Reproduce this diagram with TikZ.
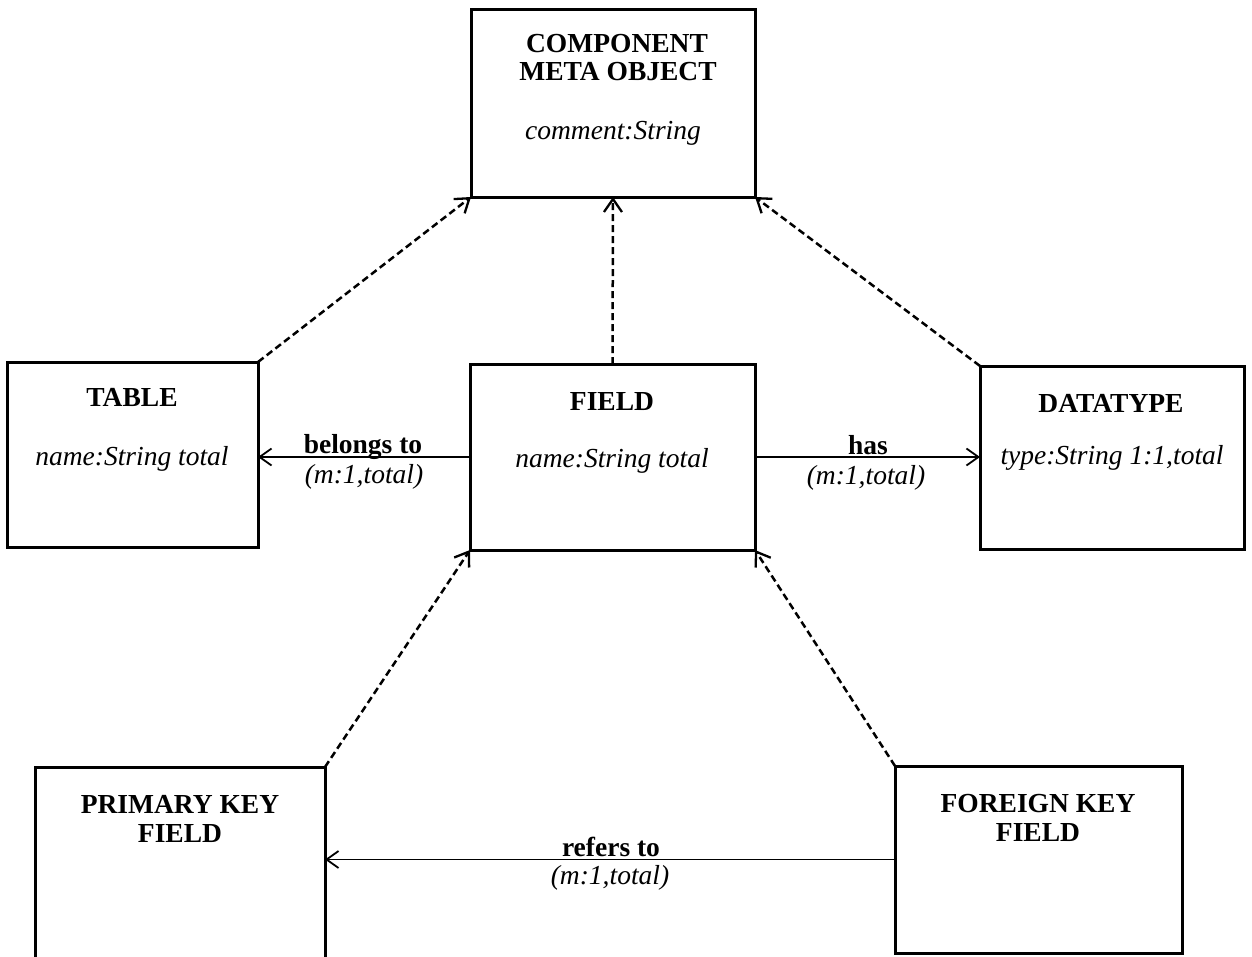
\documentclass[tikz,border=0pt]{standalone}
\usepackage{fontspec}
\setmainfont{Liberation Serif}
\usetikzlibrary{arrows.meta}
\begin{document}
\begin{tikzpicture}[x=1pt,y=-1pt,
  box/.style={draw, line width=3pt, inner sep=0pt, outer sep=0pt},
  ttl/.style={font=\fontsize{27.5}{29}\selectfont\bfseries, anchor=base, inner sep=0pt},
  att/.style={font=\fontsize{27.5}{29}\selectfont\itshape, anchor=base, inner sep=0pt},
  gen/.style={line width=2.5pt, dash pattern=on 7pt off 4pt,
    -{Straight Barb[length=13pt,width=18pt,line width=2.3pt]}},
  assoc/.style={line width=1.8pt,
    -{Straight Barb[length=12pt,width=17pt,line width=1.8pt]}},
]
\useasboundingbox (0,0) rectangle (1252,956);

% boxes
\node[box, minimum width=284pt, minimum height=188pt] (cmo) at (613,103) {};
\node[box, minimum width=251pt, minimum height=185pt] (table) at (132.5,454.5) {};
\node[box, minimum width=285pt, minimum height=186pt] (field) at (612.5,457) {};
\node[box, minimum width=264pt, minimum height=183pt] (dt) at (1112,457.5) {};
\node[box, minimum width=290pt, minimum height=193pt] (pk) at (180,863.5) {};
\node[box, minimum width=287pt, minimum height=187pt] (fk) at (1038.5,859.5) {};

% texts
\node[ttl] (cmo1) at (617,52) {COMPONENT};
\node[ttl] (cmo2) at (618,80) {META OBJECT};
\node[att] (cmo3) at (613,139) {comment:String};

\node[ttl] (tab1) at (132,406) {TABLE};
\node[att] (tab2) at (132,465) {name:String total};

\node[ttl] (fld1) at (612,410) {FIELD};
\node[att] (fld2) at (612,467) {name:String total};

\node[ttl] (dt1) at (1111,412) {DATATYPE};
\node[att] (dt2) at (1112,464) {type:String 1:1,total};

\node[ttl] (pk1) at (180,813) {PRIMARY KEY};
\node[ttl] (pk2) at (180,842) {FIELD};

\node[ttl] (fk1) at (1038,812) {FOREIGN KEY};
\node[ttl] (fk2) at (1038,841) {FIELD};

% generalisation connectors
\draw[gen] (table.north east) -- (cmo.south west);
\draw[gen] (field.north) -- (cmo.south);
\draw[gen] (dt.north west) -- (cmo.south east);
\draw[gen] (pk.north east) -- (field.south west);
\draw[gen] (fk.north west) -- (field.south east);

% associations
\draw[assoc] (field.west) -- (field.west -| table.east);
\draw[assoc] (field.east) -- (field.east -| dt.west);
\draw[assoc] (fk.west) -- (fk.west -| pk.east);

% association labels
\node[ttl] (l1a) at (363,453) {belongs to};
\node[att] (l1b) at (364,483) {(m:1,total)};
\node[ttl] (l2a) at (868,454) {has};
\node[att] (l2b) at (866,484) {(m:1,total)};
\node[ttl] (l3a) at (611,856) {refers to};
\node[att] (l3b) at (610,884) {(m:1,total)};
\end{tikzpicture}
\end{document}
